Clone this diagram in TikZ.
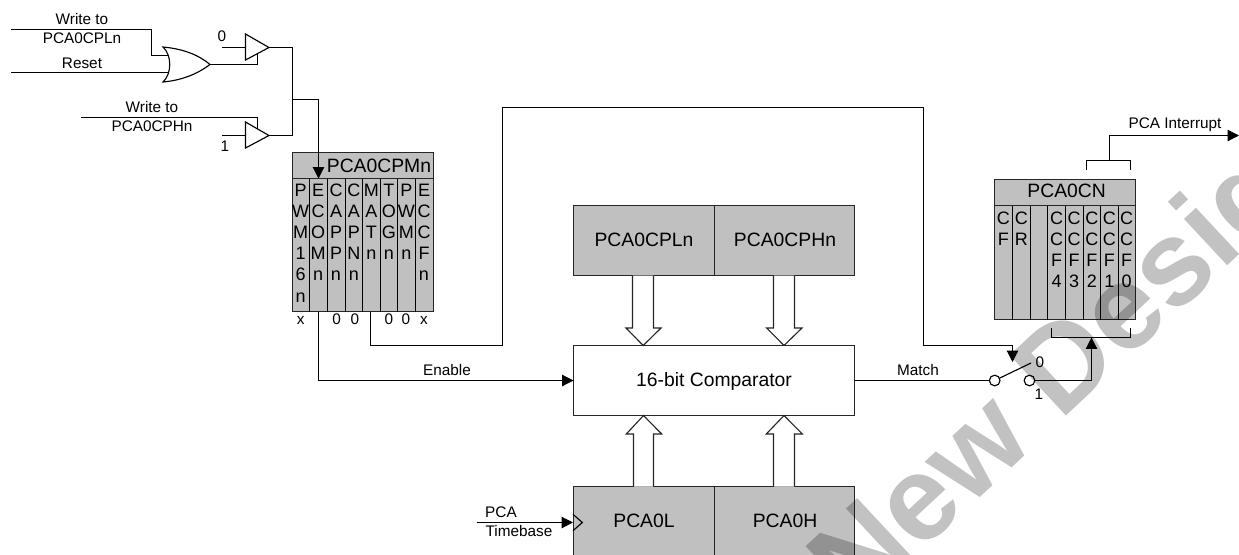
\documentclass[tikz,border=0pt]{standalone}
\usepackage{fontspec}
\setmainfont{Liberation Sans}
\usetikzlibrary{arrows.meta,calc}
\definecolor{blockgray}{HTML}{C0C0C0}
\definecolor{markgray}{HTML}{C2C2C2}
\tikzset{
  wire/.style={draw=black,line width=0.85pt},
  arrowwire/.style={wire,-{Triangle[length=8.5pt,width=8.5pt]}},
  gate/.style={draw=black,line width=0.85pt,fill=white},
  blk/.style={draw=black!85,line width=0.85pt,fill=blockgray,inner sep=0pt,outer sep=0pt},
  cmp/.style={draw=black!85,line width=0.85pt,fill=white,inner sep=0pt,outer sep=0pt},
  small/.style={font=\fontsize{11.5}{12}\selectfont,inner sep=0pt},
  big/.style={font=\fontsize{14.5}{15}\selectfont,inner sep=0pt},
  bit/.style={font=\fontsize{13.5}{13.5}\selectfont,inner sep=0pt,anchor=base},
  sw/.style={circle,draw=black,line width=0.85pt,fill=white,minimum size=8pt,inner sep=0pt,outer sep=0pt},
  hollow/.style={draw=black!85,line width=0.85pt,fill=white},
}
\newcommand{\bitcol}[4]{% x, top baseline y, row spacing, letters
  \foreach \ch [count=\ci from 0] in {#4} {
    \node[bit] (b#1r\ci) at (#1,{#2+#3*\ci}) {\ch};
  }
}
\begin{document}
\begin{tikzpicture}[x=0.75pt,y=-0.75pt]
\useasboundingbox (0,0) rectangle (1239,554);
\clip (0,0) rectangle (1239,554);
% --- gates top left
\coordinate (wl0) at (11,29.5);
\coordinate (rs0) at (11,72.5);
\coordinate (orA) at (168,55.5);
\coordinate (orB) at (168,72.5);
\coordinate (orOut) at (210,64.5);
\coordinate (wh0) at (81,117.5);
\draw[wire] (wl0) -- (151.5,29.5) |- (orA);
\draw[wire] (rs0) -- (orB);
\draw[gate] (163,47) .. controls (185,49) and (200,56) .. (orOut)
   .. controls (200,72) and (185,80) .. (163,82)
   .. controls (172,74) and (172,55) .. cycle;
\coordinate (bu1a) at (245.5,34); \coordinate (bu1b) at (245.5,60); \coordinate (bu1c) at (269,47.5);
\coordinate (bu2a) at (245.5,122); \coordinate (bu2b) at (245.5,148); \coordinate (bu2c) at (269,135.5);
\coordinate (zero) at (222,47.5);
\coordinate (one) at (222,135.5);
\coordinate (bus) at (292.5,99.5);
\draw[wire] (orOut) -| (257.5,53.5);
\draw[wire] (wh0) -| (257.5,128.5);
\draw[wire] (zero) -- (245.5,47.5);
\draw[wire] (one) -- (245.5,135.5);
\draw[gate,fill=none] (bu1a) -- (bu1c) -- (bu1b) -- cycle;
\draw[gate,fill=none] (bu2a) -- (bu2c) -- (bu2b) -- cycle;
\draw[wire] (bu1c) -| (bus);
\draw[wire] (bu2c) -| (bus);
\node[small] (t1) at (82,19) {Write to};
\node[small] (t2) at (82,38.7) {PCA0CPLn};
\node[small] (t3) at (82,63.3) {Reset};
\node[small] (t4) at (152,107) {Write to};
\node[small] (t5) at (152,126.7) {PCA0CPHn};
\node[small] (t6) at (222,36.5) {0};
\node[small] (t7) at (225,146) {1};
% --- PCA0CPMn register
\node[blk,minimum width=141pt*0.75,minimum height=26pt*0.75,anchor=north west] (cpmhead) at (292.5,152.5) {};
\node[blk,minimum width=141pt*0.75,minimum height=133pt*0.75,anchor=north west] (cpmbody) at (292.5,178.5) {};
\foreach \x in {309.5,327.5,345.5,362.5,380.5,397.5,415.5}
  \draw[wire] (\x,178.5) -- (\x,311.5);
\node[big] (cpmtitle) at (379,165.7) {PCA0CPMn};
\bitcol{300.7}{196}{21.2}{P,W,M,1,6,n}
\bitcol{318.2}{196}{21.2}{E,C,O,M,n}
\bitcol{336}{196}{21.2}{C,A,P,P,n}
\bitcol{353.8}{196}{21.2}{C,A,P,N,n}
\bitcol{371.4}{196}{21.2}{M,A,T,n}
\bitcol{388.8}{196}{21.2}{T,O,G,n}
\bitcol{406.4}{196}{21.2}{P,W,M,n}
\bitcol{424}{196}{21.2}{E,C,C,F,n}
\node[small] (vx1) at (300.7,320) {x};
\node[small] (v01) at (336.7,319.5) {0};
\node[small] (v02) at (355,319.5) {0};
\node[small] (v03) at (389,319.5) {0};
\node[small] (v04) at (406,319.5) {0};
\node[small] (vx2) at (424,320) {x};
\coordinate (inEn) at (318.5,178.5);
\draw[arrowwire] (bus) -- (318.5,99.5) -- (inEn);
% --- comparator and blocks
\node[cmp,minimum width=281pt*0.75,minimum height=70pt*0.75,anchor=north west] (comp) at (573.5,345.5) {};
\node[big] (comptxt) at (714,381) {16-bit Comparator};
\node[blk,minimum width=141pt*0.75,minimum height=70pt*0.75,anchor=north west] (cpl) at (573.5,205.5) {};
\node[blk,minimum width=140pt*0.75,minimum height=70pt*0.75,anchor=north west] (cph) at (714.5,205.5) {};
\node[big] (cpltxt) at (644,240) {PCA0CPLn};
\node[big] (cphtxt) at (785,240) {PCA0CPHn};
\node[blk,minimum width=141pt*0.75,minimum height=90pt*0.75,anchor=north west] (pl) at (573.5,486.5) {};
\node[blk,minimum width=140pt*0.75,minimum height=90pt*0.75,anchor=north west] (ph) at (714.5,486.5) {};
\node[big] (pltxt) at (644,520.7) {PCA0L};
\node[big] (phtxt) at (785,520.7) {PCA0H};
% hollow arrows
\draw[hollow] (632.5,275.5) -- (632.5,328) -- (626,328) -- (643.2,345.5) -- (661,328) -- (653.5,328) -- (653.5,275.5);
\draw[hollow] (773.5,275.5) -- (773.5,328) -- (766.7,328) -- (784,345.5) -- (802,328) -- (794.5,328) -- (794.5,275.5);
\draw[hollow] (633.5,486.5) -- (633.5,434) -- (626.3,434) -- (643.5,415.5) -- (661.7,434) -- (653.5,434) -- (653.5,486.5);
\draw[hollow] (773.5,486.5) -- (773.5,434) -- (766.3,434) -- (784,415.5) -- (802.3,434) -- (794.5,434) -- (794.5,486.5);
% timebase
\coordinate (tb0) at (476.7,522.5);
\coordinate (tbIn) at (573,522.5);
\draw[arrowwire] (tb0) -- (tbIn);
\draw[wire] (573,514.3) -- (582.3,522.5) -- (573,530.7);
\node[small] (tb1) at (501,512) {PCA};
\node[small] (tb2) at (519,530.7) {Timebase};
% enable
\draw[arrowwire] (318.5,311.5) |- (comp.west);
\node[small] (en) at (447,370) {Enable};
% feedback
\coordinate (mat) at (370.5,311.5);
\coordinate (swCtl) at (1012.5,362);
\draw[arrowwire] (mat) -- (370.5,345.5) -| (502.5,107.5) -| (923.5,345.5) -| (swCtl);
% match + switch
\node[sw] (s0) at (994.7,380.5) {};
\node[sw] (s1) at (1029.5,380.5) {};
\draw[wire] (comp.east) -- (s0.west);
\coordinate (swEnd) at (1031,363);
\draw[wire] (s0) -- (swEnd);
\node[small] (mt) at (918,370) {Match};
\node[small] (s0t) at (1040,362.7) {0};
\node[small] (s1t) at (1039,394) {1};
\coordinate (brk) at (1091.5,337.5);
\draw[arrowwire] (s1.east) -| (brk);
\draw[wire] (1051.5,328) |- (1130.5,337.5) -- (1130.5,328);
% --- PCA0CN
\node[blk,minimum width=141pt*0.75,minimum height=26pt*0.75,anchor=north west] (cnhead) at (994.5,179.5) {};
\node[blk,minimum width=141pt*0.75,minimum height=114pt*0.75,anchor=north west] (cnbody) at (994.5,205.5) {};
\foreach \x in {1012.5,1030.5,1047.5,1065.5,1083.5,1100.5,1118.5}
  \draw[wire] (\x,205.5) -- (\x,319.5);
\node[big] (cntitle) at (1066.7,191) {PCA0CN};
\bitcol{1003.3}{224}{21}{C,F}
\bitcol{1021.3}{224}{21}{C,R}
\bitcol{1056.5}{224}{21}{C,C,F,4}
\bitcol{1074.2}{224}{21}{C,C,F,3}
\bitcol{1091.8}{224}{21}{C,C,F,2}
\bitcol{1109.3}{224}{21}{C,C,F,1}
\bitcol{1126.5}{224}{21}{C,C,F,0}
\coordinate (irq) at (1239,135.5);
\draw[arrowwire] (1109.5,160.5) |- (irq);
\draw[wire] (1086.5,170) |- (1130.5,160.5) -- (1130.5,170);
\node[small] (it) at (1175,125) {PCA Interrupt};
% --- watermark
\begin{scope}[blend mode=multiply]
\node[rotate=43,text=markgray,font=\bfseries\fontsize{90}{90}\selectfont,inner sep=0pt,anchor=base west] (wm) at (856,613) {New Designs};
\end{scope}
\end{tikzpicture}
\end{document}
